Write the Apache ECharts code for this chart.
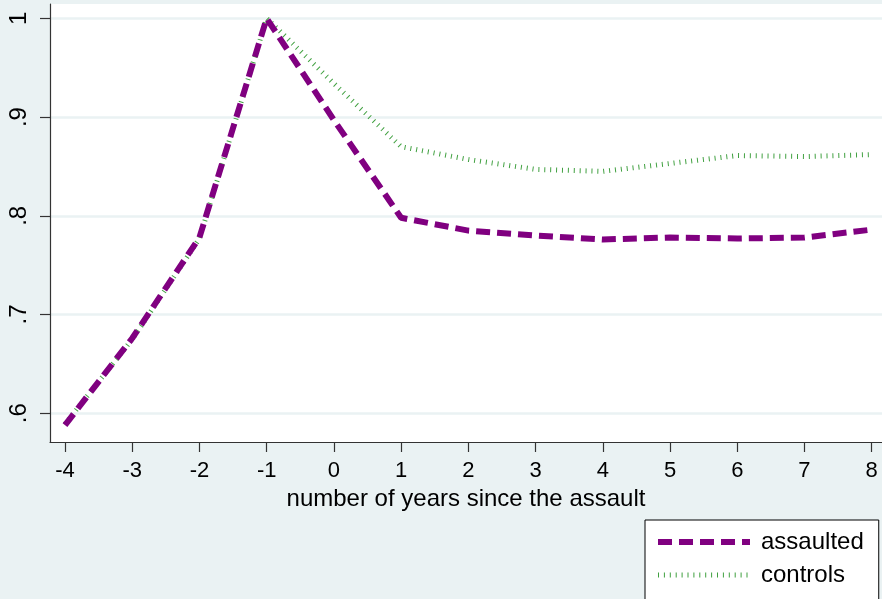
<!DOCTYPE html>
<html>
<head>
<meta charset="utf-8">
<script src="https://cdn.jsdelivr.net/npm/echarts@6/dist/echarts.min.js"></script>
<style>
  html, body { margin: 0; padding: 0; background: #EAF2F3; }
  #chart { width: 882px; height: 599px; }
</style>
</head>
<body>
<div id="chart"></div>
<script>
// Years relative to the assault
var years = [-4, -3, -2, -1, 0, 1, 2, 3, 4, 5, 6, 7, 8];
// Outcome index, normalised to 1 in the year before the assault
var assaulted = [0.588, 0.676, 0.778, 1.0, 0.897, 0.798, 0.785, 0.780, 0.776, 0.778, 0.777, 0.778, 0.786];
var controls  = [0.589, 0.675, 0.777, 1.0, 0.934, 0.870, 0.857, 0.847, 0.845, 0.853, 0.861, 0.860, 0.862];
var yTicks = [0.6, 0.7, 0.8, 0.9, 1.0];
var seriesNames = ['assaulted', 'controls'];

var FONT = '"Liberation Sans", Arial, Helvetica, sans-serif';

var purpleLine = { color: '#800080', width: 6, type: [14, 7], cap: 'butt' };
var greenLine = { color: '#1f8f1f', width: 5, type: [1, 4.9], cap: 'butt', opacity: 0.85 };

function pairs(xs, ys) {
  return xs.map(function (x, i) { return [x, ys[i]]; });
}

var chart = echarts.init(document.getElementById('chart'));
chart.setOption({
  backgroundColor: '#EAF2F3',
  animation: false,
  textStyle: { fontFamily: FONT },
  grid: {
    left: 50, top: 4, right: 0, bottom: 157,
    show: true, backgroundColor: '#ffffff', borderWidth: 0
  },
  xAxis: {
    type: 'value',
    min: -4.223, max: 8.153,
    axisLine: { show: true, onZero: false, lineStyle: { color: '#333', width: 1.2 } },
    axisTick: { show: true, length: 10, customValues: years, lineStyle: { color: '#333', width: 1.2 } },
    axisLabel: {
      customValues: years, margin: 18, fontSize: 22, color: '#000', fontFamily: FONT,
      formatter: function (v) { return String(v); }
    },
    splitLine: { show: false },
    name: 'number of years since the assault',
    nameLocation: 'middle',
    nameGap: 39,
    nameTextStyle: { fontSize: 24, color: '#000', fontFamily: FONT }
  },
  yAxis: {
    type: 'value',
    min: 0.5709, max: 1.0145,
    axisLine: { show: true, onZero: false, lineStyle: { color: '#333', width: 1.2 } },
    axisTick: { show: true, length: 10, customValues: yTicks, lineStyle: { color: '#333', width: 1.2 } },
    axisLabel: {
      customValues: yTicks, rotate: 90, margin: 19, fontSize: 24, color: '#000', fontFamily: FONT,
      formatter: function (v) {
        return Math.abs(v - 1) < 1e-9 ? '1' : v.toFixed(1).replace(/^0/, '');
      }
    },
    splitLine: { show: true, customValues: yTicks, lineStyle: { color: '#EAF2F3', width: 2.5 } }
  },
  legend: {
    data: [
      { name: seriesNames[0], lineStyle: purpleLine, itemStyle: { opacity: 0 } },
      { name: seriesNames[1], lineStyle: greenLine, itemStyle: { opacity: 0 } }
    ],
    orient: 'vertical',
    left: 645, top: 520,
    height: 200,
    backgroundColor: '#ffffff',
    borderColor: '#000',
    borderWidth: 1,
    borderRadius: 0,
    padding: [10, 15, 30, 10],
    itemWidth: 92,
    itemHeight: 24,
    itemGap: 9,
    textStyle: { fontSize: 24, color: '#000', fontFamily: FONT, padding: [0, 0, 0, 6] }
  },
  series: [
    {
      name: seriesNames[1],
      type: 'line',
      data: pairs(years, controls),
      symbol: 'none',
      color: '#1f8f1f',
      lineStyle: greenLine
    },
    {
      name: seriesNames[0],
      type: 'line',
      data: pairs(years, assaulted),
      symbol: 'none',
      color: '#800080',
      lineStyle: purpleLine
    }
  ]
});
</script>
</body>
</html>
